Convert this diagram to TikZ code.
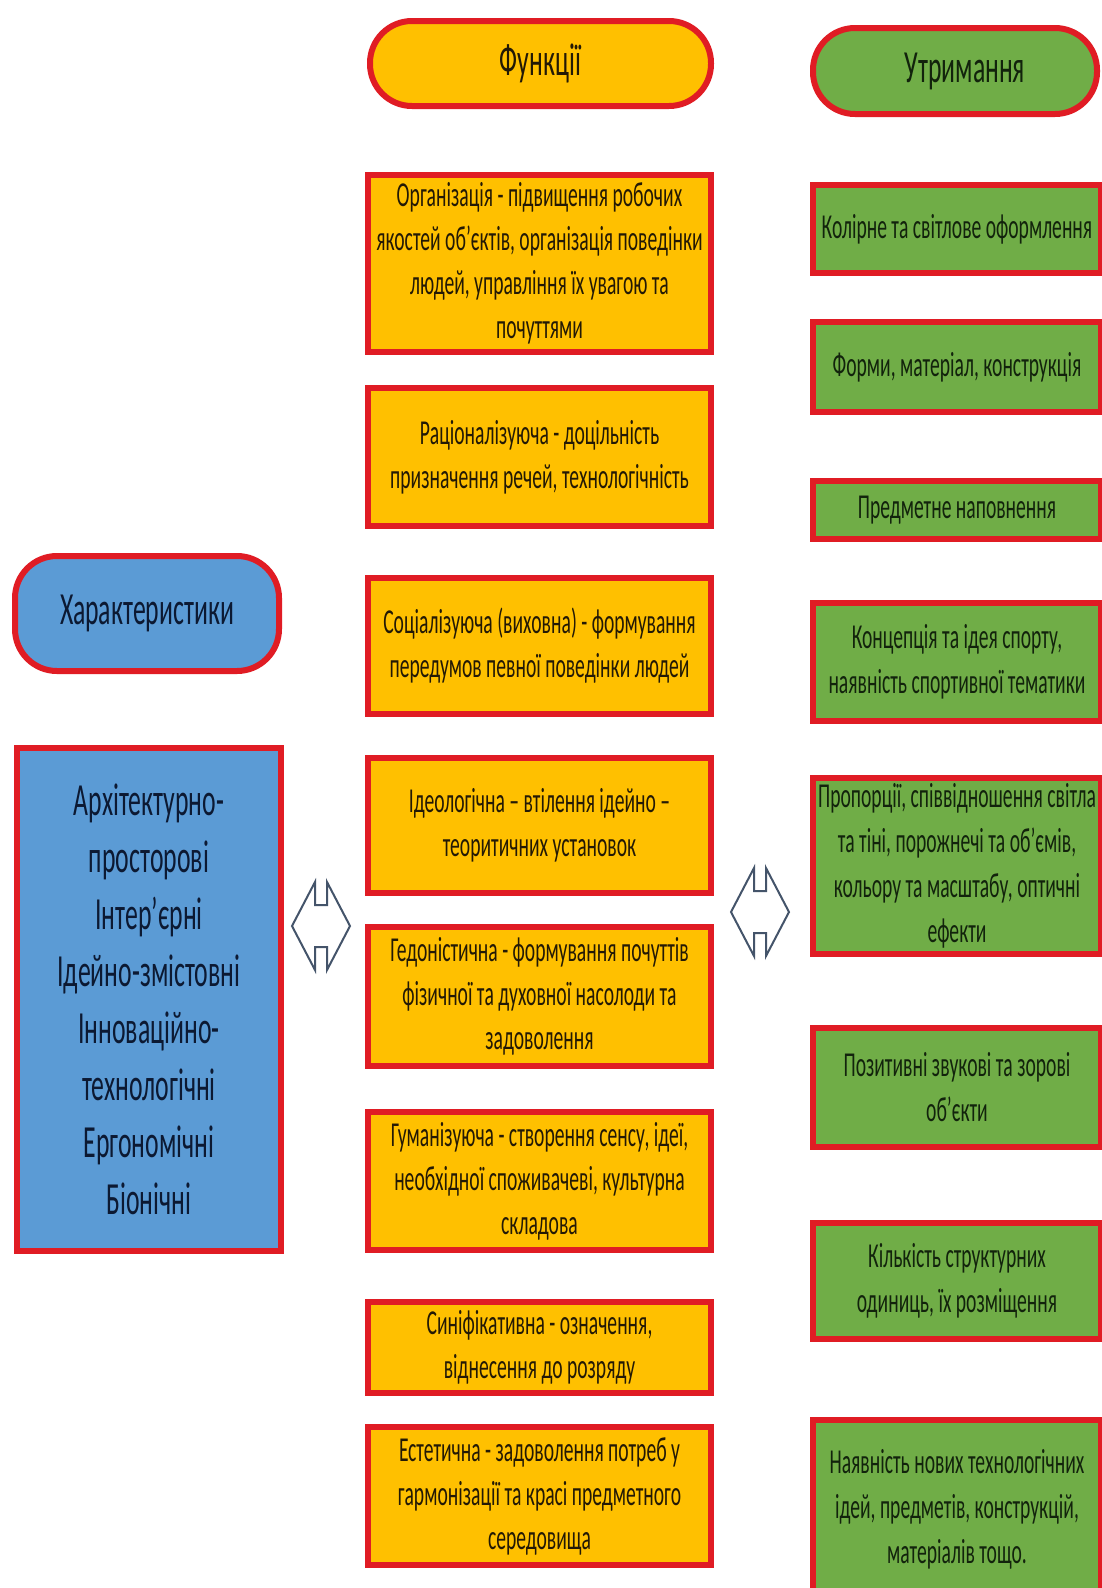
\documentclass[tikz,border=0pt]{standalone}
\usepackage{fontspec}
\setmainfont{Carlito}[FakeStretch=0.56]
\definecolor{bred}{RGB}{224,28,36}
\definecolor{borange}{RGB}{255,192,0}
\definecolor{bgreen}{RGB}{112,173,71}
\definecolor{bblue}{RGB}{91,155,213}
\definecolor{tor}{RGB}{35,25,5}
\definecolor{tgr}{RGB}{18,35,12}
\definecolor{tbl}{RGB}{12,25,50}
\definecolor{arrowgray}{RGB}{68,84,106}
\tikzset{
  base/.style={draw=bred, line width=6pt, inner sep=0pt, align=center},
  obox/.style={base, fill=borange, text=tor, minimum width=343pt, font=\fontsize{35}{44}\selectfont},
  gbox/.style={base, fill=bgreen, text=tgr, minimum width=288pt, font=\fontsize{35}{45}\selectfont},
  pill/.style={base, rounded corners=42pt, font=\fontsize{46}{52}\selectfont},
  bbox/.style={base, fill=bblue, text=tbl, minimum width=264pt, font=\fontsize{46}{57}\selectfont},
  dblarrow/.style={draw=arrowgray, line width=2pt, fill=white, line join=miter}
}
\begin{document}
\begin{tikzpicture}[x=1pt,y=-1pt]
\useasboundingbox (0,0) rectangle (1102,1588);
\clip (0,0) rectangle (1102,1588);
\fill[white] (0,0) rectangle (1102,1588);

% headers
\node[pill, fill=borange, text=tor, minimum width=341pt, minimum height=85pt] (hf) at (540.5,63.5) {Функції};
\node[pill, fill=bgreen, text=tgr, minimum width=284pt, minimum height=86pt] (hu) at (955,71) {\hspace*{20pt}Утримання};
\node[pill, fill=bblue, text=tbl, minimum width=264pt, minimum height=115pt] (hc) at (147,613.5) {Характеристики};

% blue box
\node[bbox, minimum height=503pt] (blue) at (149,999.5) {Архітектурно-\\просторові\\Інтер'єрні\\Ідейно-змістовні\\Інноваційно-\\технологічні\\Ергономічні\\Біонічні};

% orange boxes
\node[obox, minimum height=177pt] (o1) at (539.5,263.5) {Організація - підвищення робочих\\якостей об'єктів, організація поведінки\\людей, управління їх увагою та\\почуттями};
\node[obox, minimum height=138pt] (o2) at (539.5,457) {Раціоналізуюча - доцільність\\призначення речей, технологічність};
\node[obox, minimum height=136pt] (o3) at (539.5,646) {Соціалізуюча (виховна) - формування\\передумов певної поведінки людей};
\node[obox, minimum height=135pt] (o4) at (539.5,825.5) {Ідеологічна – втілення ідейно –\\теоритичних установок};
\node[obox, minimum height=139pt] (o5) at (539.5,996.5) {Гедоністична - формування почуттів\\фізичної та духовної насолоди та\\задоволення};
\node[obox, minimum height=138pt] (o6) at (539.5,1181) {Гуманізуюча - створення сенсу, ідеї,\\необхідної споживачеві, культурна\\складова};
\node[obox, minimum height=91pt] (o7) at (539.5,1347.5) {Синіфікативна - означення,\\віднесення до розряду};
\node[obox, minimum height=138pt] (o8) at (539.5,1496) {Естетична - задоволення потреб у\\гармонізації та красі предметного\\середовища};

% green boxes
\node[gbox, minimum height=88pt] (g1) at (957,229) {Колірне та світлове оформлення};
\node[gbox, minimum height=90pt] (g2) at (957,367) {Форми, матеріал, конструкція};
\node[gbox, minimum height=58pt] (g3) at (957,510) {Предметне наповнення};
\node[gbox, minimum height=118pt] (g4) at (957,662) {Концепція та ідея спорту,\\наявність спортивної тематики};
\node[gbox, minimum height=176pt] (g5) at (957,866) {Пропорції, співвідношення світла\\та тіні, порожнечі та об'ємів,\\кольору та масштабу, оптичні\\ефекти};
\node[gbox, minimum height=119pt] (g6) at (957,1087.5) {Позитивні звукові та зорові\\об'єкти};
\node[gbox, minimum height=116pt] (g7) at (957,1281) {Кількість структурних\\одиниць, їх розміщення};
\node[gbox, minimum height=178pt] (g8) at (957,1509) {Наявність нових технологічних\\ідей, предметів, конструкцій,\\матеріалів тощо.};

% double arrows
\coordinate (la) at (321,926);
\coordinate (ra) at (760,912);
\foreach \c in {la,ra}{
  \begin{scope}[shift={(\c)}]
    \draw[dblarrow] (-29,0) -- (-6,-44) -- (-6,-21) -- (6,-21) -- (6,-44) -- (29,0) -- (6,44) -- (6,21) -- (-6,21) -- (-6,44) -- cycle;
  \end{scope}
}
\end{tikzpicture}
\end{document}
